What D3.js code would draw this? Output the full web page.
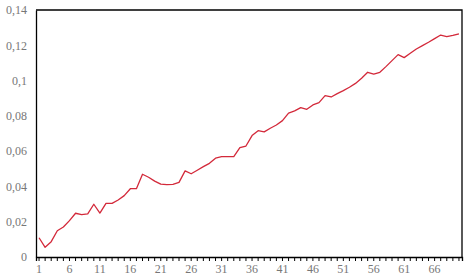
<!DOCTYPE html>
<html>
<head>
<meta charset="utf-8">
<script src="https://cdn.jsdelivr.net/npm/d3@7"></script>
<style>
  body { margin: 0; background: #fff; }
</style>
</head>
<body>
<div id="chart"></div>
<script>
// ─── DATA ──────────────────────────────────────────────────────────────────────
const periods = d3.range(1, 71);
const values = [
  0.0109, 0.0055, 0.0087, 0.0149, 0.0170, 0.0206, 0.0248, 0.0240, 0.0244, 0.0299,
  0.0249, 0.0304, 0.0304, 0.0323, 0.0348, 0.0387, 0.0387, 0.0469, 0.0452, 0.0430,
  0.0413, 0.0410, 0.0412, 0.0423, 0.0488, 0.0472, 0.0492, 0.0512, 0.0531, 0.0560,
  0.0569, 0.0569, 0.0569, 0.0620, 0.0629, 0.0688, 0.0716, 0.0709, 0.0730, 0.0748,
  0.0773, 0.0816, 0.0828, 0.0847, 0.0837, 0.0862, 0.0875, 0.0915, 0.0907, 0.0926,
  0.0943, 0.0962, 0.0984, 0.1013, 0.1047, 0.1037, 0.1047, 0.1079, 0.1113, 0.1147,
  0.1130, 0.1155, 0.1179, 0.1198, 0.1217, 0.1238, 0.1258, 0.1249, 0.1256, 0.1265
];
const yTicks = [0, 0.02, 0.04, 0.06, 0.08, 0.1, 0.12, 0.14];
const xLabelEvery = 5;

// ─── LAYOUT ────────────────────────────────────────────────────────────────────
const totalWidth = 469, totalHeight = 277;
const margin = { top: 10, right: 7, bottom: 20, left: 36 };
const width = totalWidth - margin.left - margin.right;
const height = totalHeight - margin.top - margin.bottom;
const labelFont = '"Liberation Serif", "DejaVu Serif", serif';

const svg = d3.select("#chart")
  .append("svg")
  .attr("width", totalWidth)
  .attr("height", totalHeight)
  .append("g")
  .attr("transform", `translate(${margin.left},${margin.top})`);

const xBand = d3.scaleBand().domain(periods).range([0, width]);
const xPos = d => xBand(d) + xBand.bandwidth() / 2;

const y = d3.scaleLinear().domain([0, 0.14]).range([height, 0]);

// frame (top + right)
svg.append("path")
  .attr("d", `M0,0H${width}V${height}`)
  .attr("fill", "none")
  .attr("stroke", "#000")
  .attr("stroke-width", 1.3);

// y axis: line + labels, no tick marks
const fmt = v => String(+v.toFixed(2)).replace(".", ",");
const yAxis = svg.append("g")
  .call(d3.axisLeft(y).tickValues(yTicks).tickSize(0).tickPadding(9).tickFormat(fmt));
yAxis.select(".domain").attr("stroke", "#000").attr("stroke-width", 1.3);
yAxis.selectAll("text")
  .attr("fill", "#777")
  .style("font-family", labelFont)
  .style("font-size", "12px");

// x axis: tick at each period, label every 5th
const xAxis = svg.append("g")
  .attr("transform", `translate(0,${height})`)
  .call(d3.axisBottom(xBand)
    .tickSizeOuter(0)
    .tickSize(4)
    .tickPadding(3)
    .tickFormat(d => (d - 1) % xLabelEvery === 0 ? d : ""));
xAxis.select(".domain").attr("stroke", "#000").attr("stroke-width", 1.3);
xAxis.selectAll(".tick line").attr("stroke", "#000");
xAxis.selectAll("text")
  .attr("fill", "#777")
  .style("font-family", labelFont)
  .style("font-size", "12px");

// series line
const line = d3.line()
  .x((d, i) => xPos(periods[i]))
  .y(d => y(d));

svg.append("path")
  .datum(values)
  .attr("fill", "none")
  .attr("stroke", "#d3293a")
  .attr("stroke-width", 1.3)
  .attr("stroke-linejoin", "round")
  .attr("d", line);
</script>
</body>
</html>
